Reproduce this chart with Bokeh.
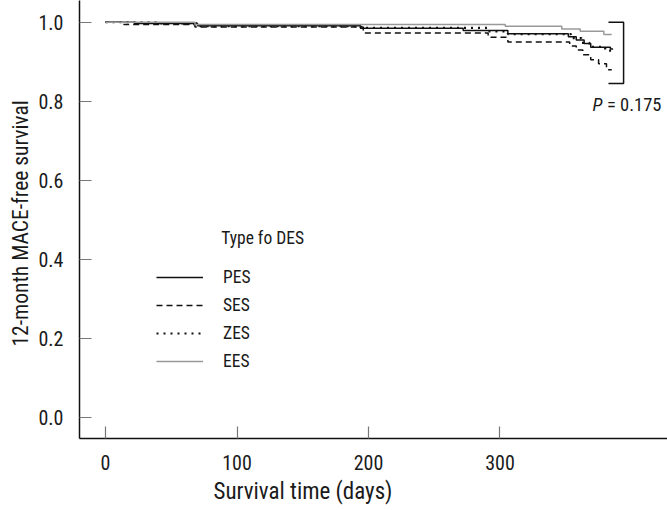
from bokeh.plotting import figure
from bokeh.models import (Range1d, FixedTicker, PrintfTickFormatter, Legend,
                          LegendItem, Label, Title)
from bokeh.embed import file_html
from bokeh.resources import INLINE

# ---------------- data ----------------
pes_days = [0, 22, 70, 194, 272, 306, 352, 358, 364, 369, 384, 386]
pes_surv = [1.0, 0.997, 0.991, 0.985, 0.979, 0.971, 0.963, 0.955, 0.946, 0.937, 0.932, 0.932]

ses_days = [0, 14, 68, 196, 291, 306, 353, 358, 363, 369, 375, 381, 385]
ses_surv = [1.0, 0.994, 0.988, 0.973, 0.962, 0.950, 0.940, 0.930, 0.918, 0.905, 0.895, 0.880, 0.880]

zes_days = [0, 40, 70, 194, 291, 306, 354, 362, 368, 380, 386]
zes_surv = [1.0, 0.997, 0.990, 0.986, 0.977, 0.970, 0.960, 0.948, 0.938, 0.928, 0.928]

ees_days = [0, 68, 304, 347, 361, 379, 385]
ees_surv = [1.0, 0.994, 0.990, 0.983, 0.977, 0.969, 0.969]

series_names = ["PES", "SES", "ZES", "EES"]
x_ticks = [0, 100, 200, 300]
y_ticks = [0.0, 0.2, 0.4, 0.6, 0.8, 1.0]
p_value_text = "= 0.175"
legend_title = "Type fo DES"
x_title = "Survival time (days)"
y_title = "12-month MACE-free survival"

FONT = "'Roboto Condensed', Roboto, sans-serif"
TXT = "#1a1a1a"

p = figure(width=667, height=510, output_backend="svg", toolbar_location=None,
           x_range=Range1d(-19.8, 427.4), y_range=Range1d(-0.053, 1.055),
           min_border_left=79, min_border_right=0, min_border_top=0,
           min_border_bottom=72)
p.outline_line_color = None
p.grid.visible = False
p.background_fill_color = "white"

# axes
for ax in (p.xaxis[0], p.yaxis[0]):
    ax.axis_line_color = "#111111"
    ax.axis_line_width = 1.5
    ax.major_tick_in = 12
    ax.major_tick_out = 0
    ax.major_tick_line_color = "#777777"
    ax.major_tick_line_width = 1.2
    ax.minor_tick_line_color = None
    ax.major_label_text_font = FONT
    ax.major_label_text_font_size = "20px"
    ax.major_label_text_color = TXT

p.xaxis.ticker = FixedTicker(ticks=x_ticks)
p.yaxis.ticker = FixedTicker(ticks=y_ticks)
p.yaxis.formatter = PrintfTickFormatter(format="%.1f")
p.xaxis.major_label_standoff = 16
p.yaxis.major_label_standoff = 16

# axis titles (placed as titles so they can be shifted along the axis)
p.add_layout(Title(text=x_title, align="left", offset=134, standoff=6,
                   text_font=FONT, text_font_size="23px", text_font_style="normal",
                   text_color=TXT), "below")
p.add_layout(Title(text=y_title, align="left", offset=92, standoff=5,
                   text_font=FONT, text_font_size="21.5px", text_font_style="normal",
                   text_color=TXT), "left")

# survival curves
r_pes = p.step(pes_days, pes_surv, mode="after", line_color="#111111", line_width=1.5)
r_ses = p.step(ses_days, ses_surv, mode="after", line_color="#111111", line_width=1.5,
               line_dash="6 4")
r_zes = p.step(zes_days, zes_surv, mode="after", line_color="#111111", line_width=2.2,
               line_dash="2 5")
r_ees = p.step(ees_days, ees_surv, mode="after", line_color="#999999", line_width=1.5)

# bracket for the p-value
br_x0, br_x1, br_top, br_bot = 382.5, 394, 1.0, 0.845
p.line([br_x0, br_x1, br_x1, br_x0], [br_top, br_top, br_bot, br_bot],
       line_color="#111111", line_width=1.5)

p.add_layout(Label(x=370.3, y=0.790, text="P", text_font=FONT, text_font_size="18.5px",
                   text_font_style="italic", text_baseline="middle", text_align="left",
                   text_color=TXT))
p.add_layout(Label(x=381.3, y=0.790, text=p_value_text, text_font=FONT,
                   text_font_size="18.5px", text_baseline="middle", text_align="left",
                   text_color=TXT))

# legend
legend = Legend(items=[LegendItem(label=n, renderers=[r])
                       for n, r in zip(series_names, [r_pes, r_ses, r_zes, r_ees])],
                location=(77, 67), padding=0, margin=0, spacing=8,
                glyph_height=20, glyph_width=47, label_height=20, label_standoff=20,
                label_text_font=FONT, label_text_font_size="17.5px",
                label_text_color=TXT,
                border_line_color=None, background_fill_alpha=0)
p.add_layout(legend, "center")
p.add_layout(Label(x=88.0, y=0.453, text=legend_title, text_font=FONT,
                   text_font_size="17.5px", text_baseline="middle", text_align="left",
                   text_color=TXT))

open("out.html", "w").write(file_html(p, INLINE))
